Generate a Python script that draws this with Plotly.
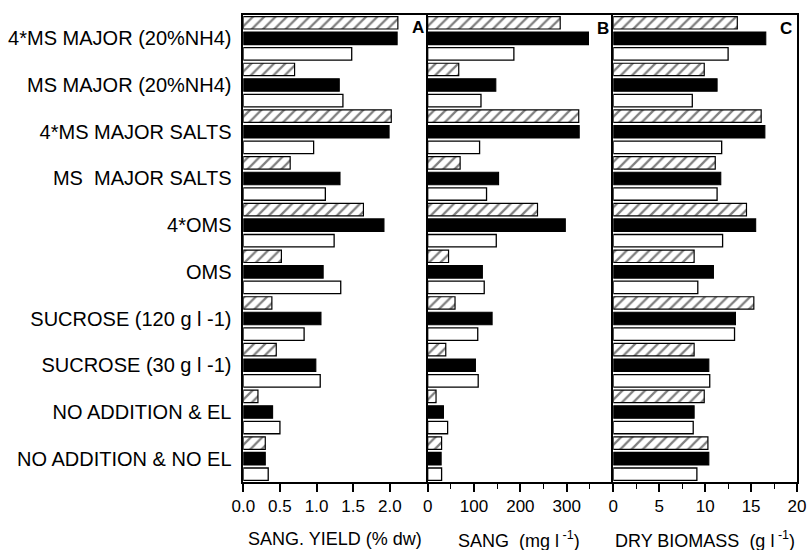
import plotly.graph_objects as go

categories = ["4*MS MAJOR (20%NH4)", "MS MAJOR (20%NH4)", "4*MS MAJOR SALTS",
              "MS\u00a0 MAJOR SALTS", "4*OMS", "OMS", "SUCROSE (120 g l -1)",
              "SUCROSE (30 g l -1)", "NO ADDITION & EL", "NO ADDITION & NO EL"]

yield_hatched = [2.11, 0.70, 2.02, 0.64, 1.64, 0.52, 0.39, 0.45, 0.20, 0.30]
yield_black = [2.10, 1.31, 1.99, 1.32, 1.92, 1.09, 1.06, 0.99, 0.40, 0.30]
yield_white = [1.48, 1.36, 0.96, 1.12, 1.24, 1.33, 0.83, 1.05, 0.50, 0.34]

sang_hatched = [286, 67, 326, 70, 237, 45, 59, 39, 18, 30]
sang_black = [347, 147, 327, 153, 297, 118, 139, 103, 34, 29]
sang_white = [186, 115, 112, 127, 148, 122, 108, 109, 43, 30]

bio_hatched = [13.5, 9.9, 16.1, 11.1, 14.5, 8.8, 15.3, 8.8, 9.9, 10.3]
bio_black = [16.6, 11.3, 16.5, 11.7, 15.5, 10.9, 13.3, 10.4, 8.8, 10.4]
bio_white = [12.5, 8.6, 11.8, 11.3, 11.9, 9.2, 13.2, 10.5, 8.7, 9.1]

x_titles = ["SANG. YIELD (% dw)", "SANG\u00a0 (mg l<sup> -1</sup>)", "DRY BIOMASS\u00a0 (g l<sup> -1</sup>)"]
panel_letters = ["A", "B", "C"]

W, H = 807, 550
FONT = "Arial, 'Liberation Sans', Helvetica, sans-serif"

fig = go.Figure()

panels = [
    (yield_hatched, yield_black, yield_white),
    (sang_hatched, sang_black, sang_white),
    (bio_hatched, bio_black, bio_white),
]

hatched_style = dict(color="white", line=dict(color="black", width=1.2),
                     pattern=dict(shape="/", fgcolor="black", bgcolor="white", size=8, solidity=0.28))
black_style = dict(color="black", line=dict(color="black", width=1.1))
white_style = dict(color="white", line=dict(color="black", width=1.3))

for i, (h, b, w) in enumerate(panels):
    suffix = "" if i == 0 else str(i + 1)
    for vals, style, name in [(h, hatched_style, "hatched"), (b, black_style, "black"), (w, white_style, "white")]:
        fig.add_trace(go.Bar(
            x=vals, y=categories, orientation="h", marker=style, name=name,
            xaxis="x" + suffix, yaxis="y" + suffix, showlegend=False,
            offsetgroup=name,
        ))

# panel pixel geometry
px_domains = [(243.3, 425.7), (427.7, 610.7), (613.3, 797.0)]
ranges = [[0, 2.49], [0, 395], [0, 20]]
dticks = [0.5, 100, 5]
minors = [None, 50, 2.5]
tickformats = [".1f", "d", "d"]

for i in range(3):
    suffix = "" if i == 0 else str(i + 1)
    d0, d1 = px_domains[i]
    xa = dict(
        domain=[d0 / W, d1 / W], range=ranges[i], anchor="y" + suffix,
        showline=True, linecolor="black", linewidth=1.6, mirror=True,
        ticks="outside", ticklen=8, tickwidth=1.6, tickcolor="black",
        dtick=dticks[i], tick0=0, tickformat=tickformats[i],
        showgrid=False, zeroline=False, automargin=False,
        tickfont=dict(family=FONT, size=17, color="black"),
        fixedrange=True,
    )
    if minors[i] is not None:
        xa["minor"] = dict(dtick=minors[i], tick0=0, ticks="outside", ticklen=5,
                           tickwidth=1.4, tickcolor="black", showgrid=False)
    ya = dict(
        domain=[0, 1], type="category", categoryorder="array", categoryarray=categories,
        range=[9.5, -0.5], anchor="x" + suffix,
        showline=True, linecolor="black", linewidth=1.6, mirror=True,
        showgrid=False, zeroline=False, automargin=False,
        showticklabels=(i == 0), ticks="outside" if i == 0 else "",
        ticklen=6, tickcolor="rgba(0,0,0,0)",
        tickfont=dict(family=FONT, size=20, color="black"),
        fixedrange=True,
    )
    fig.update_layout(**{"xaxis" + suffix: xa, "yaxis" + suffix: ya})

    # axis title
    fig.add_annotation(x=(d0 + d1) / 2 / W, y=-(539 - 482) / 467, xref="paper", yref="paper",
                       text=x_titles[i], showarrow=False, xanchor="center", yanchor="middle",
                       font=dict(family=FONT, size=18, color="black"))

letter_pos = [(418, 28), (602.5, 28.5), (785.5, 28.5)]
for i, (lx, ly) in enumerate(letter_pos):
    fig.add_annotation(x=lx / W, y=1 - (ly - 15) / 467, xref="paper", yref="paper",
                       text="<b>" + panel_letters[i] + "</b>", showarrow=False,
                       xanchor="center", yanchor="middle",
                       font=dict(family=FONT, size=17, color="black"))

fig.update_layout(
    width=W, height=H,
    margin=dict(l=0, r=0, t=15, b=68, pad=0),
    barmode="group", bargap=0.0, bargroupgap=0.2,
    plot_bgcolor="white", paper_bgcolor="white",
    showlegend=False,
    font=dict(family=FONT, color="black"),
)

fig.write_html("out.html", config={"displayModeBar": False},
               post_script="document.body.style.margin='0';document.body.style.overflow='hidden';")
